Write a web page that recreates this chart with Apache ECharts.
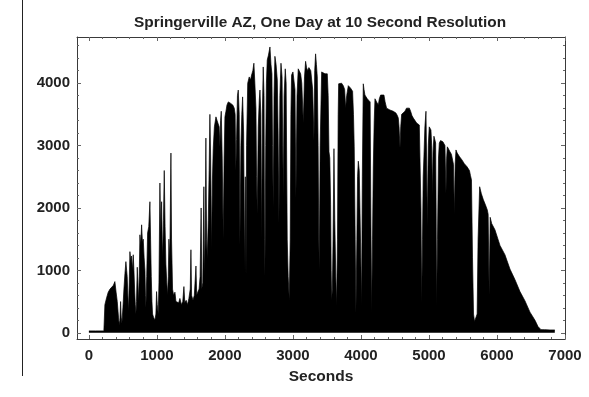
<!DOCTYPE html>
<html><head><meta charset="utf-8">
<script src="https://cdn.jsdelivr.net/npm/echarts@6/dist/echarts.min.js"></script>
<style>html,body{margin:0;padding:0;background:#fff}#c{width:589px;height:397px}</style>
</head><body><div id="c"></div>
<script>
const seconds = [
0,100,220,235,260,284,310,333,360,382,
400,417,435,446,456,466,475,485,500,515,
530,544,555,563,573,583,593,603,615,627,
640,652,662,672,682,691,700,711,720,730,
740,750,762,775,787,799,812,824,831,838,
850,863,880,897,907,917,927,936,950,970,
985,995,1005,1020,1030,1044,1056,1069,1077,1084,
1096,1108,1120,1132,1145,1157,1167,1176,1190,1206,
1215,1230,1245,1265,1280,1299,1320,1338,1360,1380,
1397,1410,1430,1450,1470,1490,1500,1510,1530,1550,
1574,1585,1600,1620,1635,1650,1660,1675,1690,1700,
1710,1720,1730,1740,1755,1768,1779,1790,1804,1815,
1828,1845,1868,1885,1902,1915,1926,1936,1946,1960,
1975,1988,2000,2015,2030,2049,2065,2080,2098,2115,
2137,2150,2160,2171,2184,2196,2210,2220,2235,2248,
2260,2275,2290,2300,2310,2318,2335,2357,2375,2392,
2410,2426,2440,2456,2465,2475,2490,2505,2515,2528,
2540,2552,2563,2575,2582,2588,2600,2610,2622,2640,
2662,2677,2691,2700,2710,2722,2735,2752,2770,2782,
2794,2808,2824,2840,2850,2858,2870,2887,2900,2916,
2930,2946,2960,2970,2980,3000,3015,3030,3044,3060,
3078,3095,3113,3130,3152,3170,3186,3200,3216,3235,
3250,3262,3275,3290,3309,3320,3333,3345,3358,3370,
3380,3387,3400,3422,3445,3471,3490,3505,3518,3530,
3542,3554,3562,3569,3580,3590,3603,3615,3630,3642,
3655,3665,3672,3691,3715,3740,3760,3775,3790,3814,
3830,3848,3865,3877,3890,3901,3915,3926,3940,3950,
3961,3975,3985,3998,4010,4020,4034,4045,4058,4075,
4093,4110,4122,4135,4145,4157,4170,4181,4195,4206,
4230,4255,4270,4289,4310,4338,4355,4377,4400,4426,
4450,4475,4495,4515,4535,4549,4560,4574,4585,4598,
4620,4647,4670,4696,4712,4730,4750,4770,4795,4819,
4840,4858,4872,4882,4893,4905,4915,4926,4940,4956,
4965,4975,4990,5004,5015,5029,5040,5049,5060,5073,
5085,5098,5105,5112,5125,5140,5152,5170,5187,5205,
5221,5235,5250,5260,5270,5290,5309,5330,5348,5360,
5373,5385,5397,5415,5431,5450,5466,5485,5505,5520,
5539,5560,5578,5595,5610,5625,5640,5655,5670,5690,
5708,5722,5745,5770,5800,5830,5857,5870,5885,5900,
5922,5970,6044,6117,6191,6265,6338,6412,6485,6559,
6603,6647,6700,6780,6850
];
const irradiance = [
30,30,30,450,560,650,700,720,760,820,
650,500,250,130,200,500,250,150,400,700,
950,1140,1000,900,600,350,800,1300,1150,1230,
1000,1250,1000,700,450,300,500,1050,800,500,
900,1570,1400,1730,1450,1500,1200,1000,600,400,
900,1600,1700,2100,1500,900,500,300,250,200,
300,660,450,300,800,2400,1600,2100,1500,1200,
1800,2600,1700,1100,800,600,900,1500,1200,2880,
1500,700,600,650,500,500,480,550,450,500,
740,480,520,450,550,700,1330,600,520,600,
1070,600,650,700,900,2000,700,800,2340,900,
1500,3120,1500,1200,1800,2600,3500,2800,1330,2400,
2950,3300,3460,3400,3420,3300,2980,3400,3550,2800,
1500,2800,3460,3550,3650,3700,3720,3680,3700,3650,
3600,3500,2600,3100,3800,3890,3500,1400,3000,3500,
3780,3200,1000,2500,900,3000,4000,4100,4050,4130,
4200,4320,4000,3600,2500,1900,3300,3730,3890,3500,
1500,3600,4260,3800,1500,900,3000,4000,4370,4450,
4580,4300,4150,3000,2000,3800,4430,4300,4050,3200,
1750,3800,4320,4100,3000,2170,3800,4230,4000,1500,
900,530,1500,3500,4130,4180,4200,3900,2170,3800,
4230,4200,4150,4000,3360,4100,4350,4250,4200,4250,
4260,4200,4200,3900,3090,4200,4470,4300,4100,3000,
1500,1000,3000,4180,4150,4150,4120,4150,3800,2900,
2800,2050,1000,530,700,1500,2950,1800,900,430,
1500,3500,3990,4020,4000,3960,3900,3600,3800,3960,
3950,3920,3900,3870,3500,2980,1500,320,1500,2500,
2750,2600,2000,1200,430,2500,3990,3900,3810,3780,
3750,3740,3730,3700,2000,320,1500,2640,3400,3750,
3700,3650,3750,3810,3820,3810,3700,3600,3580,3570,
3560,3550,3530,3520,3480,3440,3300,2960,3300,3500,
3520,3550,3600,3620,3600,3550,3480,3440,3400,3360,
3340,3330,3330,2000,480,1500,2500,2830,3300,3550,
2800,1700,3000,3300,3280,3250,3000,2200,2900,3150,
3100,3040,2000,430,1500,2800,3040,3080,3090,3060,
3040,3000,2230,2800,2980,2940,2900,2860,2830,2700,
1900,2700,2930,2880,2850,2820,2800,2770,2740,2710,
2690,2660,2640,2600,2520,2450,1200,300,180,200,
300,1500,2340,2230,2130,2050,1970,1900,600,1850,
1750,1650,1400,1250,1020,850,660,510,330,200,
100,50,50,45,45
];
const xTickLabels = [0,1000,2000,3000,4000,5000,6000,7000];
const yTickLabels = [0,1000,2000,3000,4000];
const xMinorTicks = [200,400,600,800,1200,1400,1600,1800,2200,2400,2600,2800,3200,3400,3600,3800,4200,4400,4600,4800,5200,5400,5600,5800,6200,6400,6600,6800];
const yMinorTicks = [200,400,600,800,1200,1400,1600,1800,2200,2400,2600,2800,3200,3400,3600,3800,4200,4400,4600];

const n = Math.min(seconds.length, irradiance.length);
const data = [];
for (let i = 0; i < n; i++) data.push([seconds[i], irradiance[i]]);

const X_MIN = -175, X_MAX = 7000, Y_MIN = -100, Y_MAX = 4740;
const FONT = "'Liberation Sans', Arial, sans-serif";
const frameColor = '#3a3a3a', tickColor = '#666';
const labelStyle = {fontFamily: FONT, fontWeight: 'bold', fontSize: 15, color: '#222', formatter: function (v) { return String(v); }};

function xAx(pos, ticks, len, showLabel, showLine) {
  return {
    type: 'value', gridIndex: 0, position: pos, min: X_MIN, max: X_MAX,
    axisLine: {show: showLine, onZero: false, lineStyle: {color: frameColor, width: 1}},
    axisTick: {show: true, inside: true, length: len, customValues: ticks, lineStyle: {color: tickColor, width: 1}},
    axisLabel: Object.assign({show: showLabel, customValues: ticks, margin: 9}, labelStyle),
    splitLine: {show: false}
  };
}
function yAx(pos, ticks, len, showLabel, showLine) {
  return {
    type: 'value', gridIndex: 0, position: pos, min: Y_MIN, max: Y_MAX,
    axisLine: {show: showLine, onZero: false, lineStyle: {color: frameColor, width: 1}},
    axisTick: {show: true, inside: true, length: len, customValues: ticks, lineStyle: {color: tickColor, width: 1}},
    axisLabel: Object.assign({show: showLabel, customValues: ticks, margin: 7}, labelStyle),
    splitLine: {show: false}
  };
}

const xMain = xAx('bottom', xTickLabels, 4, true, true);
xMain.name = 'Seconds';
xMain.nameLocation = 'middle';
xMain.nameGap = 30;
xMain.nameTextStyle = {fontFamily: FONT, fontWeight: 'bold', fontSize: 15.5, color: '#222'};

const chart = echarts.init(document.getElementById('c'));
chart.setOption({
  animation: false,
  backgroundColor: '#fff',
  title: {
    text: 'Springerville AZ, One Day at 10 Second Resolution',
    left: 129, top: 10,
    textStyle: {fontFamily: FONT, fontWeight: 'bold', fontSize: 15.4, color: '#222'}
  },
  grid: {left: 77, right: 24, top: 37, bottom: 58, containLabel: false},
  xAxis: [
    xMain,
    xAx('bottom', xMinorTicks, 2, false, false),
    xAx('top', xTickLabels, 4, false, true),
    xAx('top', xMinorTicks, 2, false, false)
  ],
  yAxis: [
    yAx('left', yTickLabels, 4, true, true),
    yAx('left', yMinorTicks, 2, false, false),
    yAx('right', yTickLabels, 4, false, true),
    yAx('right', yMinorTicks, 2, false, false)
  ],
  graphic: [{
    type: 'line', shape: {x1: 22.5, y1: 0, x2: 22.5, y2: 376},
    style: {stroke: '#222', lineWidth: 1}
  }],
  series: [{
    type: 'line', xAxisIndex: 0, yAxisIndex: 0, data: data,
    symbol: 'none', sampling: null,
    lineStyle: {color: '#000', width: 0.7},
    areaStyle: {color: '#000', opacity: 1},
    silent: true
  }]
});
</script></body></html>
